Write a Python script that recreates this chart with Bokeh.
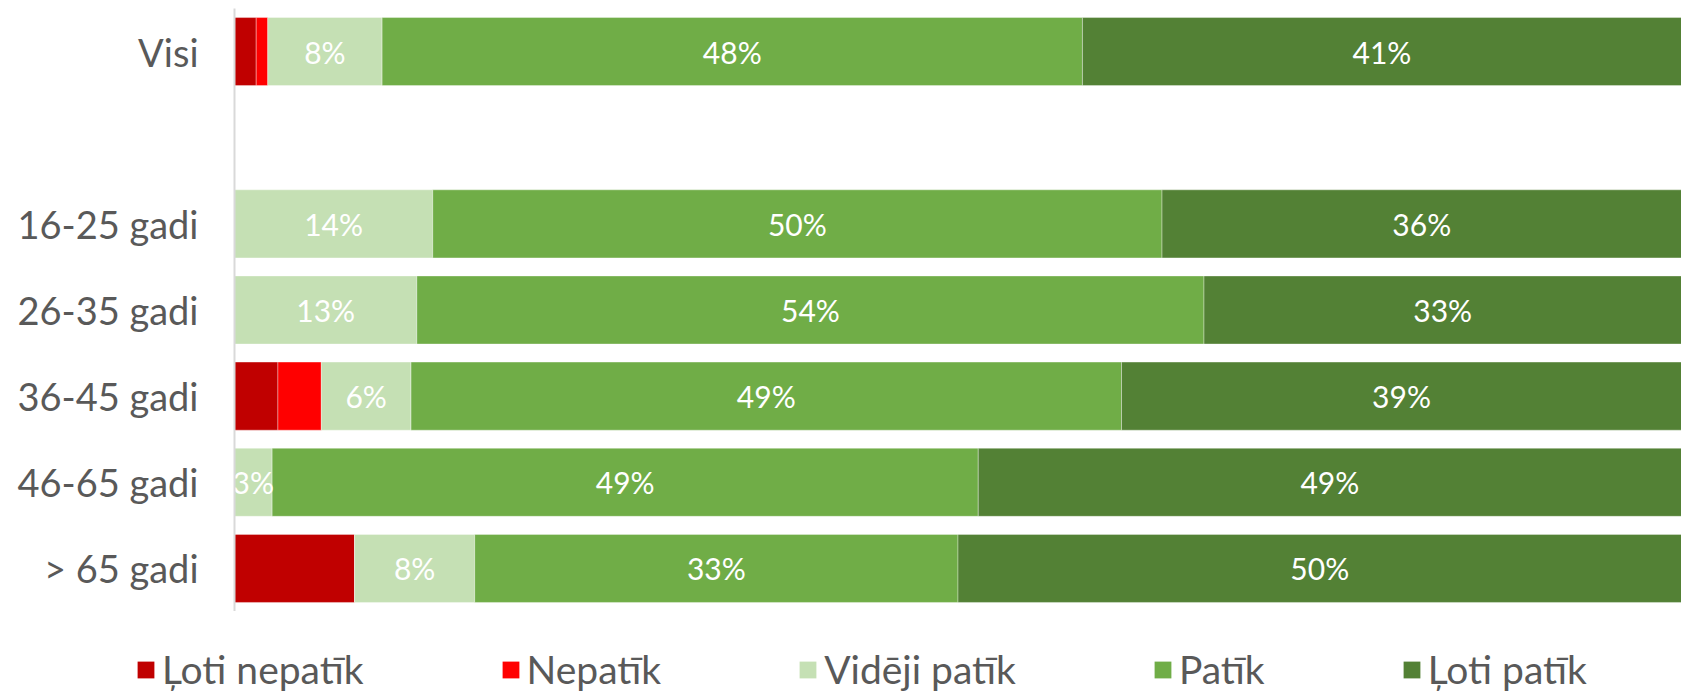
from bokeh.plotting import figure
from bokeh.models import ColumnDataSource, Legend, LegendItem, Range1d, FactorRange
from bokeh.layouts import column
from bokeh.core.properties import value
from bokeh.embed import file_html
from bokeh.resources import INLINE

# ---- data (percent) ----
categories = ["Visi", " ", "16-25 gadi", "26-35 gadi", "36-45 gadi", "46-65 gadi", "> 65 gadi"]
series_names = ["Ļoti nepatīk", "Nepatīk", "Vidēji patīk", "Patīk", "Ļoti patīk"]
loti_nepatik = [1.5, 0, 0, 0, 3.0, 0, 8.3]
nepatik = [0.8, 0, 0, 0, 3.0, 0, 0]
videji_patik = [7.9, 0, 13.7, 12.6, 6.2, 2.6, 8.3]
patik = [48.4, 0, 50.4, 54.4, 49.1, 48.8, 33.4]
loti_patik = [41.4, 0, 35.9, 33.0, 38.7, 48.6, 50.0]
labelled = ["Vidēji patīk", "Patīk", "Ļoti patīk"]

colors = ["#C00000", "#FF0000", "#C5E0B4", "#70AD47", "#538135"]
FONT = "Lato"
GRAY = "#595959"

series = [loti_nepatik, nepatik, videji_patik, patik, loti_patik]
data = {"cat": categories}
for name, vals in zip(series_names, series):
    data[name] = vals
src = ColumnDataSource(data)

p = figure(width=1681, height=611, y_range=FactorRange(*reversed(categories)),
           x_range=Range1d(0, 100), output_backend="svg", toolbar_location=None,
           min_border_left=234, min_border_right=0, min_border_top=8, min_border_bottom=0)
p.frame_align = False

renderers = p.hbar_stack(series_names, y="cat", height=0.79, color=colors, source=src,
                         line_color="white", line_alpha=0.35, line_width=1)

# value labels
for i, name in enumerate(series_names):
    if name not in labelled:
        continue
    xs, ys, ts = [], [], []
    for j, cat in enumerate(categories):
        v = series[i][j]
        if v <= 0:
            continue
        start = sum(series[k][j] for k in range(i))
        xs.append(start + v / 2)
        ys.append(cat)
        ts.append(f"{round(v)}%")
    p.text(x=xs, y=ys, text=ts, text_color="white", text_align="center",
           text_baseline="middle", text_font=value(FONT), text_font_size="30px")

# axes
p.xaxis.visible = False
p.xgrid.visible = False
p.ygrid.visible = False
p.outline_line_color = None
ya = p.yaxis[0]
ya.axis_line_color = "#D9D9D9"
ya.axis_line_width = 2
ya.major_tick_line_color = None
ya.minor_tick_line_color = None
ya.major_label_text_font = FONT
ya.major_label_text_font_size = "38px"
ya.major_label_text_color = GRAY
ya.major_label_standoff = 30
p.y_range.range_padding = 0

# legend strip below the chart (same series with zero-height bars; only the legend shows)
lg = figure(width=1681, height=85, x_range=Range1d(200, 300),
            y_range=FactorRange(*reversed(categories)),
            output_backend="svg", toolbar_location=None,
            min_border_left=0, min_border_right=0, min_border_top=0, min_border_bottom=0)
lg.frame_align = False
lg.axis.visible = False
lg.grid.visible = False
lg.outline_line_color = None
swatches = lg.hbar_stack(series_names, y="cat", height=0, fill_color=colors,
                         line_color=None, source=src)
legend = Legend(items=[LegendItem(label=n, renderers=[r]) for n, r in zip(series_names, swatches)],
                orientation="horizontal", location=(135, 4), spacing=136,
                padding=0, margin=0, border_line_color=None, background_fill_alpha=0,
                glyph_width=21, glyph_height=21, label_standoff=6, label_height=38,
                label_text_font=FONT, label_text_font_size="39px", label_text_color=GRAY)
lg.add_layout(legend, "center")

open("out.html", "w").write(file_html(column(p, lg, spacing=0), INLINE))
